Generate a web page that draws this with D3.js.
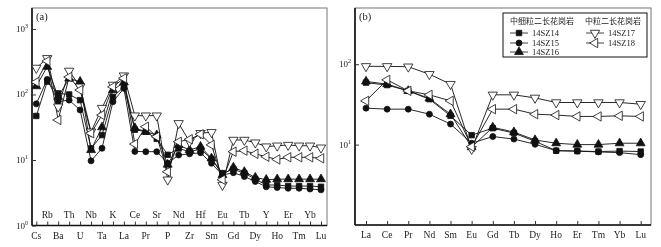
<!DOCTYPE html>
<html>
<head>
<meta charset="utf-8">
<script src="https://d3js.org/d3.v7.min.js"></script>
<style>
  body { margin: 0; background: #fff; }
  svg { will-change: transform; }
  text { font-family: "Liberation Serif", "Times New Roman", serif; fill: #222; }
  .cjk { font-family: "Noto Sans CJK SC", sans-serif; }
</style>
</head>
<body>
<div id="chart"></div>
<script>
// ---- data (a): spider diagram ----
var spiderElems = ["Cs","Rb","Ba","Th","U","Nb","Ta","K","La","Ce","Pr","Sr","P","Nd","Zr","Hf","Sm","Eu","Gd","Tb","Dy","Y","Ho","Er","Tm","Yb","Lu"];
var sp14 = [47,157,104,100,82,15,24,92,131,29,27,21,12,15,13.4,14.7,10.4,6.3,7.2,6.3,5.1,4.15,4.15,4.0,4.0,4.0,3.9];
var sp15 = [72,170,78,82,58,9.7,15.1,77.6,124,13.5,13.4,13.4,8.9,11.9,12.4,12.9,8.9,5.9,6.4,5.6,4.7,3.9,3.8,3.7,3.7,3.6,3.5];
var sp16 = [134,265,92,175,157,14.2,31.6,117,153,30.8,27,24,8.5,16.9,14.2,16,10.6,5.9,7.7,6.6,5.4,5.0,5.1,5.1,5.1,5.1,5.1];
var sp17 = [254,357,65,229,131,27,62,140,194,47.5,47.5,47.5,5.0,36.3,19,25.6,26.5,4.15,20.2,20.2,18.4,16,16.5,16.9,16.5,16.5,15.4];
var sp18 = [155,324,40.8,185,117,25.6,48.6,131,177,17.5,32.2,22.7,6.6,19,20.7,24.7,17,5.0,13.4,13.9,12.4,11.2,10.2,11,11,11,10.6];

// ---- data (b): REE pattern ----
var reeElems = ["La","Ce","Pr","Nd","Sm","Eu","Gd","Tb","Dy","Ho","Er","Tm","Yb","Lu"];
var ree14 = [59,55,46.6,36.7,22.8,13.1,16,13.9,11,8.4,8.3,8.2,8.3,8.2];
var ree15 = [28.4,27.6,27.6,23.9,18,10.4,12.6,11.7,10.1,8.4,8.3,8.1,7.95,7.5];
var ree16 = [61,56.5,46.6,37.5,23.9,9.3,16.4,14.3,11.4,10.4,10,10,10.4,10.4];
var ree17 = [94,94,93,75,56.5,8.8,41.6,41.6,38.1,33.4,33.4,33.4,33.4,31.8];
var ree18 = [35,63.8,46.6,41.6,35,9.4,27.6,27.6,23.9,23.3,22.4,22.4,22.8,22.4];

var samples = ["14SZ14","14SZ15","14SZ16","14SZ17","14SZ18"];
var groupNames = ["中细粒二长花岗岩","中粒二长花岗岩"];

// marker style per sample
var markers = {
  "14SZ14": { type: d3.symbolSquare, size: 30, rot: 0, fill: "#111" },
  "14SZ15": { type: d3.symbolCircle, size: 28, rot: 0, fill: "#111" },
  "14SZ16": { type: d3.symbolTriangle, size: 34, rot: 0, fill: "#111" },
  "14SZ17": { type: d3.symbolTriangle, size: 38, rot: 180, fill: "#fff" },
  "14SZ18": { type: d3.symbolTriangle, size: 38, rot: -90, fill: "#fff" }
};

var svg = d3.select("#chart").append("svg")
  .attr("width", 661).attr("height", 247);

function drawPanel(opt) {
  var x = d3.scalePoint().domain(opt.elems).range(opt.xr);
  var y = d3.scaleLog().domain(opt.yd).range([opt.bottom, opt.top]);
  var g = svg.append("g");

  // frame (top/right thin grey)
  g.append("rect")
    .attr("x", opt.left).attr("y", opt.top)
    .attr("width", opt.right - opt.left).attr("height", opt.bottom - opt.top)
    .attr("fill", "none").attr("stroke", "#777").attr("stroke-width", 1);

  // bottom axis, ticks pointing inward
  var xa = g.append("g").attr("transform", `translate(0,${opt.bottom})`)
    .call(d3.axisBottom(x).tickSizeInner(-4).tickSizeOuter(0).tickFormat(""));
  xa.select(".domain").attr("d", `M${opt.left},0H${opt.right}`).attr("stroke", "#111").attr("stroke-width", 1.6);
  xa.selectAll(".tick line").attr("stroke", "#333");

  // left axis
  var ya = g.append("g").attr("transform", `translate(${opt.left},0)`)
    .call(d3.axisLeft(y).tickValues(opt.yticks).tickSizeInner(-4).tickSizeOuter(0).tickFormat(""));
  ya.select(".domain").attr("d", `M0,${opt.top}V${opt.bottom}`).attr("stroke", "#111").attr("stroke-width", 1.6);
  ya.selectAll(".tick line").attr("stroke", "#333");

  // y tick labels 10^n
  opt.yticks.forEach(function (v) {
    var t = g.append("text")
      .attr("x", opt.left - 4).attr("y", y(v) + 3)
      .attr("text-anchor", "end").style("font-size", "9px");
    t.append("tspan").text("10");
    t.append("tspan").attr("dy", -4).style("font-size", "6px").text(Math.round(Math.log10(v)));
  });

  // element labels
  opt.elems.forEach(function (e, i) {
    var up = opt.alternate && i % 2 === 1;
    g.append("text")
      .attr("x", x(e)).attr("y", up ? opt.bottom - 8 : opt.bottom + 13)
      .attr("text-anchor", "middle").style("font-size", "9.5px").text(e);
  });

  // panel tag
  g.append("text").attr("x", opt.left + 4).attr("y", opt.top + 12)
    .style("font-size", "10.5px").text(opt.tag);

  var line = d3.line().x((d, i) => x(opt.elems[i])).y(d => y(d));
  opt.series.forEach(function (s) {
    g.append("path").datum(s.values)
      .attr("d", line).attr("fill", "none")
      .attr("stroke", "#111").attr("stroke-width", 0.9);
  });
  opt.series.forEach(function (s) {
    var m = markers[s.name];
    g.selectAll(null).data(s.values).enter().append("path")
      .attr("d", d3.symbol().type(m.type).size(m.size))
      .attr("transform", (d, i) => `translate(${x(opt.elems[i])},${y(d)}) rotate(${m.rot})`)
      .attr("fill", m.fill).attr("stroke", "#111").attr("stroke-width", 0.8);
  });
}

drawPanel({
  elems: spiderElems, xr: [36.3, 321], yd: [1, 2090], yticks: [1, 10, 100, 1000],
  left: 32, right: 327, top: 8, bottom: 225.5, alternate: true, tag: "(a)",
  series: [
    { name: "14SZ14", values: sp14 }, { name: "14SZ15", values: sp15 },
    { name: "14SZ16", values: sp16 }, { name: "14SZ17", values: sp17 },
    { name: "14SZ18", values: sp18 }
  ]
});

drawPanel({
  elems: reeElems, xr: [366, 640.7], yd: [1, 500], yticks: [10, 100],
  left: 355, right: 651, top: 8, bottom: 225, alternate: false, tag: "(b)",
  series: [
    { name: "14SZ14", values: ree14 }, { name: "14SZ15", values: ree15 },
    { name: "14SZ16", values: ree16 }, { name: "14SZ17", values: ree17 },
    { name: "14SZ18", values: ree18 }
  ]
});

// legend in panel (b)
var lg = svg.append("g");
lg.append("rect").attr("x", 503).attr("y", 13).attr("width", 144).attr("height", 44)
  .attr("fill", "#fff").attr("stroke", "#111").attr("stroke-width", 1);
lg.append("text").attr("class", "cjk").attr("x", 510).attr("y", 24)
  .style("font-size", "8px").text(groupNames[0]);
lg.append("text").attr("class", "cjk").attr("x", 585).attr("y", 24)
  .style("font-size", "8px").text(groupNames[1]);
var legPos = [[510, 33], [510, 43], [510, 52], [586, 33], [586, 43]];
samples.forEach(function (s, i) {
  var p = legPos[i], m = markers[s];
  lg.append("line").attr("x1", p[0]).attr("x2", p[0] + 18)
    .attr("y1", p[1]).attr("y2", p[1]).attr("stroke", "#111").attr("stroke-width", 0.8);
  lg.append("path").attr("d", d3.symbol().type(m.type).size(m.size))
    .attr("transform", `translate(${p[0] + 9},${p[1]}) rotate(${m.rot})`)
    .attr("fill", m.fill).attr("stroke", "#111").attr("stroke-width", 0.8);
  lg.append("text").attr("x", p[0] + 22).attr("y", p[1] + 3)
    .style("font-size", "8.5px").text(s);
});
</script>
</body>
</html>
